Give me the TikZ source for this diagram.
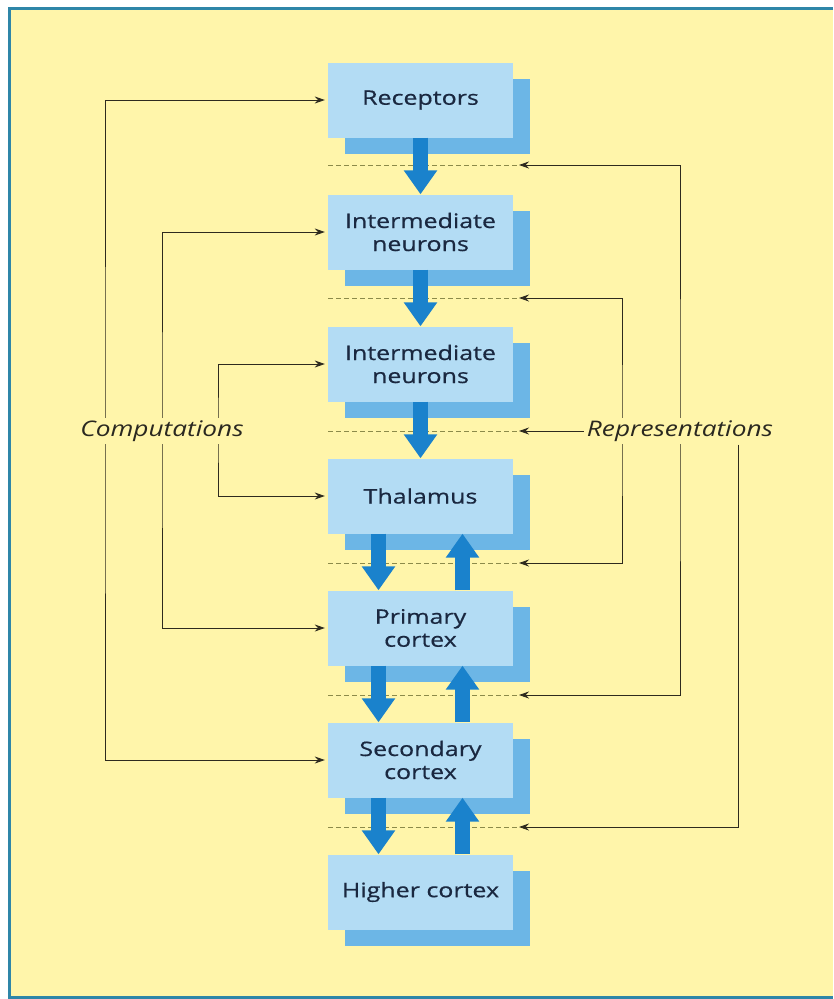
\documentclass[tikz,border=0pt]{standalone}
\usepackage{fontspec}
\setmainfont{Open Sans}
\newfontfamily\boxfont[FakeStretch=1.25,FakeBold=0.6]{Open Sans}
\newfontfamily\labfont[FakeStretch=1.22]{Open Sans}
\usetikzlibrary{arrows.meta,shadows}
\definecolor{bg}{HTML}{FFF5AA}
\definecolor{framec}{HTML}{2F86A8}
\definecolor{front}{HTML}{B3DCF4}
\definecolor{shade}{HTML}{6CB6E6}
\definecolor{arrowblue}{HTML}{1A82CC}
\definecolor{txt}{HTML}{1A2840}
\definecolor{linec}{HTML}{2E2A1E}
\definecolor{dashc}{HTML}{8C8A4A}
\definecolor{labc}{HTML}{2A2820}
\begin{document}
\begin{tikzpicture}[x=1pt,y=-1pt,
  stage/.style={fill=front, minimum width=185pt, minimum height=75pt, inner sep=0pt,
    align=center, font=\boxfont\fontsize{20}{23}\selectfont, text=txt,
    copy shadow={shadow xshift=17pt, shadow yshift=-16pt, fill=shade, draw=none}},
  flow/.style={line width=15pt, draw=arrowblue, -{Triangle[width=32pt,length=24pt]}},
  feedboth/.style={line width=0.9pt, draw=linec,
    {Stealth[length=10pt,width=7pt]}-{Stealth[length=10pt,width=7pt]}},
  feed/.style={line width=0.9pt, draw=linec, -{Stealth[length=10pt,width=7pt]}},
  dashline/.style={line width=0.9pt, draw=dashc, dash pattern=on 5pt off 3pt},
  lab/.style={fill=bg, font=\labfont\itshape\fontsize{21.5}{24}\selectfont, text=labc, inner sep=3pt}]
\useasboundingbox (0,0) rectangle (833,999);
\fill[white] (0,0) rectangle (833,999);
\fill[bg] (9,8) rectangle (833,997);
\draw[framec, line width=3pt] (833,8) -- (9,8) -- (9,997) -- (833,997);

% stages
\node[stage] (rec) at (420.5,100) {Receptors};
\node[stage] (int1) at (420.5,232) {Intermediate\\neurons};
\node[stage] (int2) at (420.5,364) {Intermediate\\neurons};
\node[stage] (thal) at (420.5,496) {Thalamus};
\node[stage] (pri) at (420.5,628) {Primary\\cortex};
\node[stage] (sec) at (420.5,760) {Secondary\\cortex};
\node[stage] (hig) at (420.5,892) {Higher cortex};

% dashed level lines
\foreach \i/\y in {1/165,2/298,3/431,4/563,5/695,6/827}{
  \coordinate (dL\i) at (328,\y);
  \coordinate (dR\i) at (519,\y);
  \draw[dashline] (dL\i) -- (dR\i);
}

% blue flow arrows
\draw[flow] (rec.south) -- (int1.north);
\draw[flow] (int1.south) -- (int2.north);
\draw[flow] (int2.south) -- (thal.north);
\draw[flow] ([xshift=-42pt]thal.south) -- ([xshift=-42pt]pri.north);
\draw[flow] ([xshift=42pt]pri.north) -- ([xshift=42pt]thal.south);
\draw[flow] ([xshift=-42pt]pri.south) -- ([xshift=-42pt]sec.north);
\draw[flow] ([xshift=42pt]sec.north) -- ([xshift=42pt]pri.south);
\draw[flow] ([xshift=-42pt]sec.south) -- ([xshift=-42pt]hig.north);
\draw[flow] ([xshift=42pt]hig.north) -- ([xshift=42pt]sec.south);

% computations (left)
\coordinate (cx1) at (105,430);
\coordinate (cx2) at (162,430);
\coordinate (cx3) at (218,430);
\draw[feedboth, shorten <=3pt, shorten >=3pt] (rec.west) -| (cx1) |- (sec.west);
\draw[feedboth, shorten <=3pt, shorten >=3pt] (int1.west) -| (cx2) |- (pri.west);
\draw[feedboth, shorten <=3pt, shorten >=3pt] (int2.west) -| (cx3) |- (thal.west);

% representations (right)
\coordinate (rx1) at (680,430);
\coordinate (rx2) at (622,430);
\draw[feedboth] (dR1) -| (rx1) |- (dR5);
\draw[feedboth] (dR2) -| (rx2) |- (dR4);

\node[lab] (comp) at (162,431) {Computations};
\node[lab] (repr) at (680,431) {Representations};

\draw[feed] (repr.west) -- (dR3);
\draw[feed] (repr.south -| 738,0) |- (dR6);
\end{tikzpicture}
\end{document}
